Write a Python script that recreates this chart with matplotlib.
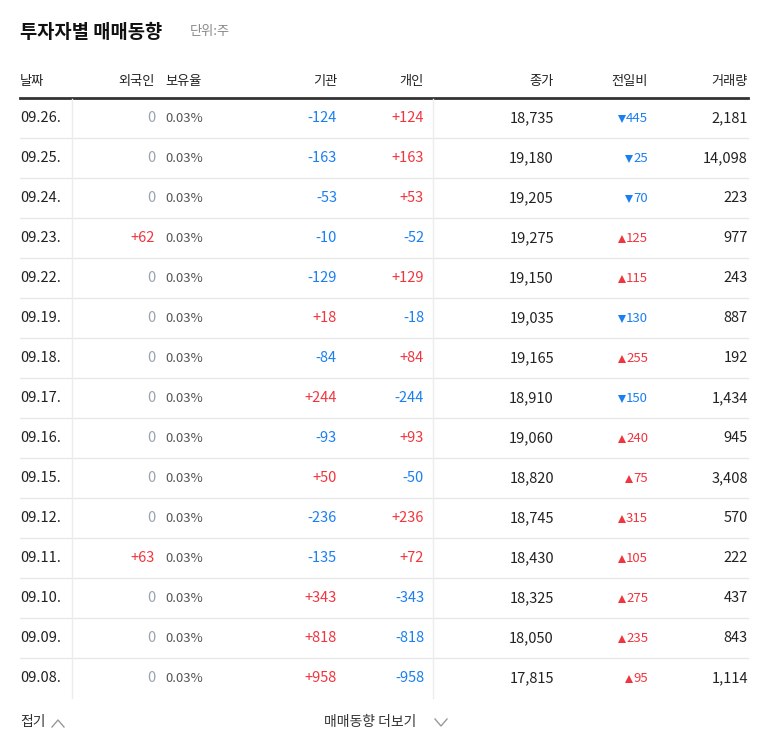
import matplotlib.pyplot as plt
from matplotlib import font_manager

# pick whatever CJK family is actually registered
cjk = [f.name for f in font_manager.fontManager.ttflist if "CJK" in f.name]
kr = [n for n in cjk if "KR" in n]
plt.rcParams["font.family"] = (kr[:1] or cjk[:1]) + ["DejaVu Sans"]

dates = ["09.26.", "09.25.", "09.24.", "09.23.", "09.22.", "09.19.", "09.18.", "09.17.",
         "09.16.", "09.15.", "09.12.", "09.11.", "09.10.", "09.09.", "09.08."]
foreign = [0, 0, 0, 62, 0, 0, 0, 0, 0, 0, 0, 63, 0, 0, 0]
ratio = ["0.03%"] * 15
inst = [-124, -163, -53, -10, -129, 18, -84, 244, -93, 50, -236, -135, 343, 818, 958]
indiv = [124, 163, 53, -52, 129, -18, 84, -244, 93, -50, 236, 72, -343, -818, -958]
close = [18735, 19180, 19205, 19275, 19150, 19035, 19165, 18910, 19060, 18820, 18745, 18430, 18325, 18050, 17815]
change = [-445, -25, -70, 125, 115, -130, 255, -150, 240, 75, 315, 105, 275, 235, 95]
volume = [2181, 14098, 223, 977, 243, 887, 192, 1434, 945, 3408, 570, 222, 437, 843, 1114]
headers = ["날짜", "외국인", "보유율", "기관", "개인", "종가", "전일비", "거래량"]

RED, BLUE, GREY, DARK = "#f0353f", "#1a7ff0", "#9aa2ad", "#222222"

fig = plt.figure(figsize=(7.68, 7.49), dpi=100)
ax = fig.add_axes([0, 0, 1, 1])
ax.set_xlim(0, 768)
ax.set_ylim(749, 0)
ax.axis("off")

ax.text(20, 32, "투자자별 매매동향", fontsize=13.5, fontweight="bold", va="center", color="#111")
ax.text(190, 32, "단위:주", fontsize=9.5, va="center", color="#888")

hx = [20, 155, 165, 337, 424, 554, 648, 748]
ha = ["left", "right", "left", "right", "right", "right", "right", "right"]
for h, x, a in zip(headers, hx, ha):
    ax.text(x, 81, h, fontsize=9.5, ha=a, va="center", color=DARK)
ax.plot([20, 748], [98, 98], color="#333", lw=2)


def signed(v):
    if v > 0:
        return "+%d" % v, RED
    if v < 0:
        return "%d" % v, BLUE
    return "0", GREY


y0, dy = 118, 40
for i in range(len(dates)):
    y = y0 + i * dy
    fs = 10.5
    ax.text(20, y, dates[i], fontsize=fs, va="center", color=DARK)
    t, c = signed(foreign[i])
    ax.text(155, y, t, fontsize=fs, ha="right", va="center", color=c)
    ax.text(165, y, ratio[i], fontsize=9.5, va="center", color="#555")
    t, c = signed(inst[i])
    ax.text(337, y, t, fontsize=fs, ha="right", va="center", color=c)
    t, c = signed(indiv[i])
    ax.text(424, y, t, fontsize=fs, ha="right", va="center", color=c)
    ax.text(554, y, f"{close[i]:,}", fontsize=fs, ha="right", va="center", color=DARK)
    c = RED if change[i] > 0 else BLUE
    ax.text(648, y, f"{abs(change[i])}", fontsize=9.5, ha="right", va="center", color=c)
    tri_x = 648 - 7 * len(str(abs(change[i]))) - 5
    ax.plot(tri_x, y + 0.5, marker="^" if change[i] > 0 else "v", color=c, ms=5.5, mew=0)
    ax.text(748, y, f"{volume[i]:,}", fontsize=fs, ha="right", va="center", color=DARK)
    if i < len(dates) - 1:
        ax.plot([20, 748], [y + 20, y + 20], color="#e8e8e8", lw=1)

bottom = y0 + (len(dates) - 1) * dy + 20
for x in [72, 433]:
    ax.plot([x, x], [99, bottom], color="#ececec", lw=1)

ax.text(20, 722, "접기", fontsize=10, va="center", color="#333")
ax.plot([52, 58, 64], [727, 720, 727], color="#999", lw=1)
ax.text(324, 722, "매매동향 더보기", fontsize=10, va="center", color="#333")
ax.plot([435, 441, 447], [719, 726, 719], color="#999", lw=1)

fig.savefig("out.png", dpi=100, facecolor="white")
